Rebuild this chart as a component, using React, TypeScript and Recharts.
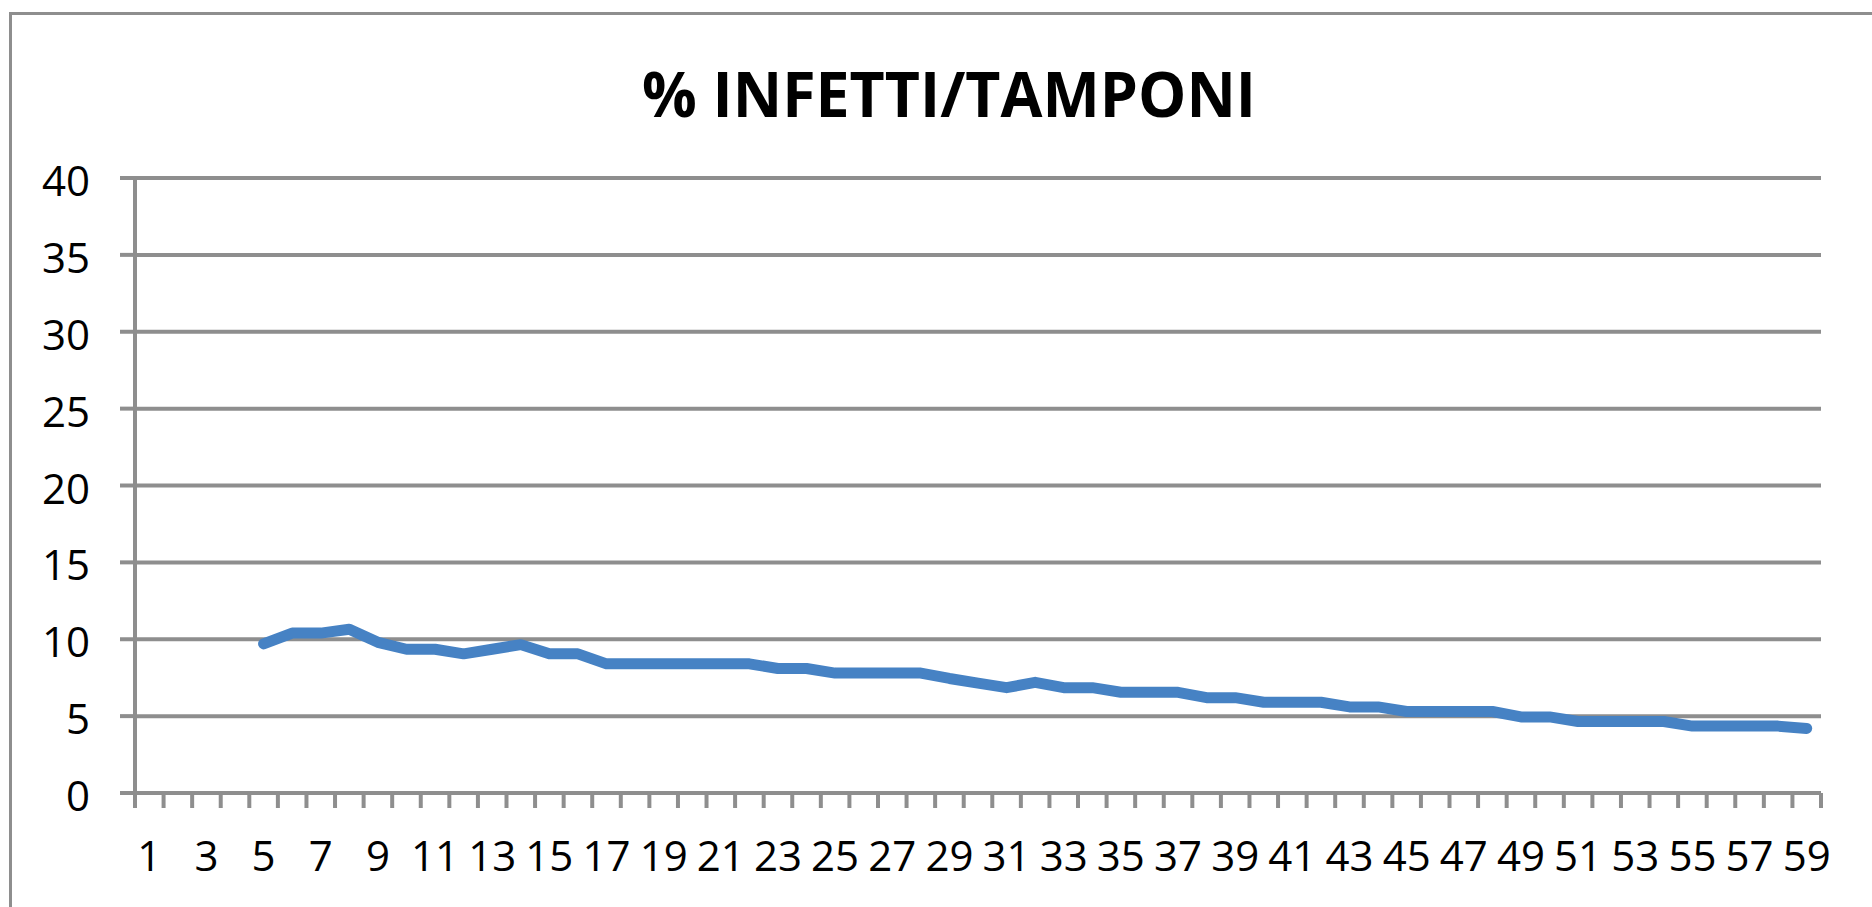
import { CartesianGrid, Line, LineChart, XAxis, YAxis } from "recharts";

// days shown on the category axis
const DAYS = [
  1, 2, 3, 4, 5, 6, 7, 8, 9, 10, 11, 12, 13, 14, 15, 16, 17, 18, 19, 20,
  21, 22, 23, 24, 25, 26, 27, 28, 29, 30, 31, 32, 33, 34, 35, 36, 37, 38, 39, 40,
  41, 42, 43, 44, 45, 46, 47, 48, 49, 50, 51, 52, 53, 54, 55, 56, 57, 58, 59,
];

// % infetti / tamponi (no data for days 1-4)
const PCT: (number | null)[] = [
  null, null, null, null, 9.7, 10.4, 10.4, 10.65, 9.8, 9.35,
  9.35, 9.05, 9.35, 9.65, 9.05, 9.05, 8.4, 8.4, 8.4, 8.4,
  8.4, 8.4, 8.1, 8.1, 7.8, 7.8, 7.8, 7.8, 7.45, 7.15,
  6.85, 7.2, 6.85, 6.85, 6.55, 6.55, 6.55, 6.2, 6.2, 5.9,
  5.9, 5.9, 5.6, 5.6, 5.3, 5.3, 5.3, 5.3, 4.95, 4.95,
  4.65, 4.65, 4.65, 4.65, 4.35, 4.35, 4.35, 4.35, 4.2,
];

const Y_TICKS = [0, 5, 10, 15, 20, 25, 30, 35, 40];

const TITLE = "% INFETTI/TAMPONI";

const data = DAYS.map((d, i) => ({ day: String(d), pct: PCT[i] }));

const GRAY = "#8e8e8e";
const FONT = "'Open Sans', sans-serif";

function YTick({ x, y, payload }: any) {
  return (
    <text x={x - 28} y={y} dy={18} textAnchor="end" fontSize={42} fontFamily={FONT} fill="#000">
      {payload.value}
    </text>
  );
}

// Excel-style axis: tick marks between categories, a label on every other day
function XTick({ x, y, payload, index }: any) {
  const half = payload.offset || 14.3;
  const last = index === DAYS.length - 1;
  return (
    <g>
      <line x1={x - half} x2={x - half} y1={y} y2={y + 15} stroke={GRAY} strokeWidth={4} />
      {last && <line x1={x + half} x2={x + half} y1={y} y2={y + 15} stroke={GRAY} strokeWidth={4} />}
      {index % 2 === 0 && (
        <text x={x} y={y} dy={78} textAnchor="middle" fontSize={42} fontFamily={FONT} fill="#000">
          {payload.value}
        </text>
      )}
    </g>
  );
}

export default function App() {
  return (
    <div
      style={{
        position: "absolute",
        left: 0,
        top: 0,
        width: 1872,
        height: 907,
        overflow: "hidden",
        background: "#fff",
      }}
    >
      <div
        style={{
          position: "absolute",
          left: 9,
          top: 12,
          width: 2000,
          height: 2000,
          borderLeft: `3px solid ${GRAY}`,
          borderTop: `3px solid ${GRAY}`,
        }}
      />
      <LineChart
        width={1872}
        height={907}
        data={data}
        margin={{ top: 178, right: 51, left: 0, bottom: 0 }}
        style={{ position: "absolute", left: 0, top: 0 }}
      >
        <CartesianGrid vertical={false} stroke={GRAY} strokeWidth={4} />
        <XAxis
          dataKey="day"
          scale="band"
          interval={0}
          tick={<XTick />}
          tickLine={false}
          tickSize={0}
          tickMargin={0}
          axisLine={{ stroke: GRAY, strokeWidth: 4 }}
          height={114}
        />
        <YAxis
          domain={[0, 40]}
          ticks={Y_TICKS}
          interval={0}
          width={135}
          tick={<YTick />}
          tickSize={15}
          tickLine={{ stroke: GRAY, strokeWidth: 4 }}
          axisLine={{ stroke: GRAY, strokeWidth: 4 }}
        />
        <Line
          dataKey="pct"
          type="linear"
          stroke="#4682c4"
          strokeWidth={11}
          strokeLinecap="round"
          strokeLinejoin="round"
          dot={false}
          activeDot={false}
          isAnimationActive={false}
        />
      </LineChart>
      <svg
        width={1872}
        height={907}
        style={{ position: "absolute", left: 0, top: 0, pointerEvents: "none" }}
      >
        <text
          x={949}
          y={117}
          textAnchor="middle"
          fontSize={62}
          fontWeight={700}
          fontFamily={FONT}
          fill="#000"
          textLength={614}
          lengthAdjust="spacingAndGlyphs"
        >
          {TITLE}
        </text>
      </svg>
    </div>
  );
}
